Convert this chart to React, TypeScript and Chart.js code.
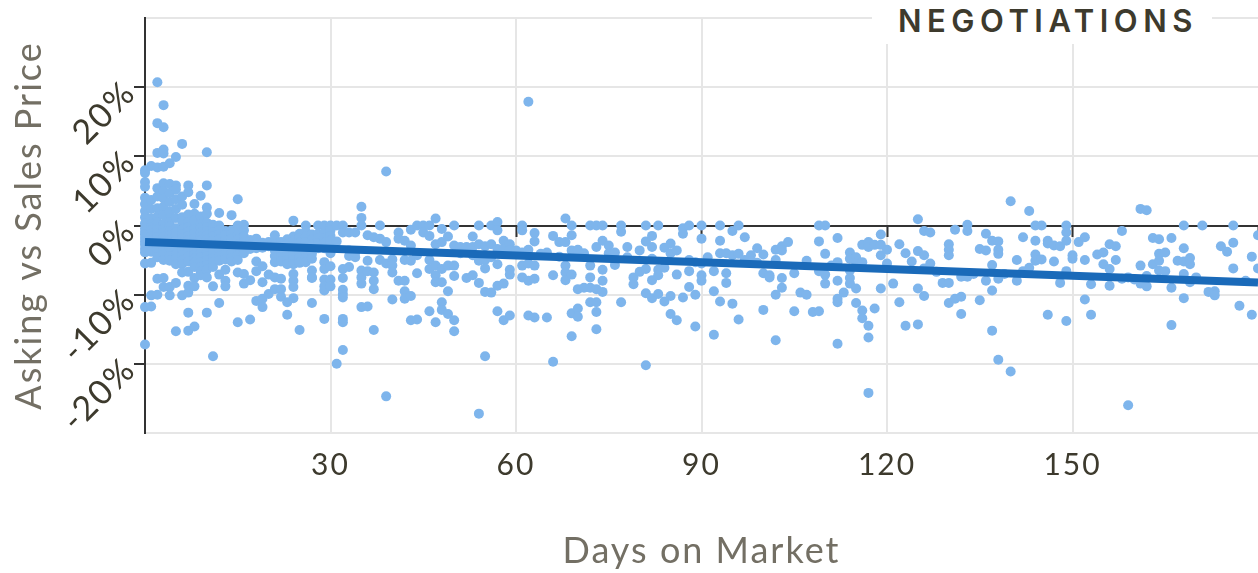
import React, { useEffect, useRef } from "react";
import { Chart, registerables } from "chart.js";

Chart.register(...registerables);

const chartTitle = "NEGOTIATIONS";
const xAxisTitle = "Days on Market";
const yAxisTitle = "Asking vs Sales Price";
const trendDays = [0, 180];
const trendGaps = [-2.4, -8.25];

// Asking vs sales gap (%) of each sale, listed by days on market (index = day).
const gapsByDay: number[][] = [
  /*0*/ [8, 7.6, 6.3, 5.6, 4, 3.1, 2.1, 1.2, 0.3, -0.4, -0.9, -1.3, -1.8, -2.3, -2.8, -3.4, -3.9, -5.5, -11.8, -17.2],
  /*1*/ [8.6, 3.7, 2.4, 1, 0.2, -0.3, -0.7, -1.2, -1.6, -2.1, -2.7, -3.2, -3.8, -5.4, -10.1, -11.7],
  /*2*/ [20.7, 14.8, 10.5, 8.4, 5.4, 4.2, 2.5, 1.3, 0.4, -0.2, -0.6, -1.1, -1.7, -2.2, -2.9, -3.5, -4.1, -4.6, -7.7, -10],
  /*3*/ [17.4, 14.2, 11, 10.4, 8.5, 6.1, 5, 3.9, 2.7, 1.5, 0.2, -0.5, -1, -1.6, -2.3, -3, -3.6, -4.2, -5, -7.6, -8.9],
  /*4*/ [9, 6, 4.7, 3.4, 2, 1, 0.5, -0.1, -0.8, -1.4, -2, -2.6, -3.3, -3.9, -4.4, -5.1, -8.9, -10.1],
  /*5*/ [9.9, 5.8, 5.2, 3.8, 2.4, 1.1, -0.4, -1, -1.5, -2.2, -2.9, -3.5, -4.2, -4.8, -5.6, -8.3, -15.3],
  /*6*/ [11.8, 4.2, 3, 1.2, 0.6, -0.6, -1.3, -1.9, -2.5, -3.1, -3.7, -4.3, -5, -5.6, -6.8, -10.1],
  /*7*/ [5.8, 4.8, 1.6, 0.5, -0.2, -0.9, -1.5, -2.1, -2.7, -3.3, -3.8, -4.5, -5.2, -6.7, -8.7, -9.7, -12.6, -15.2],
  /*8*/ [3.1, 1.7, 0.7, -0.5, -1.1, -1.8, -2.4, -3, -3.6, -4.2, -4.8, -5.4, -6, -7.6, -8.8, -14.6],
  /*9*/ [4.3, 1.3, 0.2, -0.3, -1, -1.6, -2.2, -2.8, -3.4, -4, -4.6, -5.3, -6, -6.7, -7.2],
  /*10*/ [10.6, 5.8, 2.6, 1.7, 0.4, -0.2, -0.8, -1.4, -2, -2.6, -3.2, -3.8, -4.4, -5, -5.7, -6.4, -7.5, -12.6],
  /*11*/ [0.1, -0.4, -1, -1.6, -2.2, -2.8, -3.4, -4, -4.7, -5.3, -6, -8.8, -18.9],
  /*12*/ [1.8, 0, -0.7, -1.3, -2, -2.6, -3.2, -3.8, -4.5, -5.1, -7.1, -11.2],
  /*13*/ [-0.8, -1.4, -2.1, -2.8, -3.5, -4.2, -4.9, -6.4, -8, -8.8],
  /*14*/ [1.5, -0.7, -1.2, -1.9, -2.6, -3.3, -4, -4.7, -5.2],
  /*15*/ [3.8, 0, -0.6, -1.3, -2, -2.8, -3.5, -4.3, -5, -6.8, -14],
  /*16*/ [0.1, -0.7, -1.6, -2.4, -3.2, -4, -7, -8.4],
  /*17*/ [-2.1, -2.8, -3.4, -7.9, -13.6],
  /*18*/ [-1.9, -2.6, -3.3, -5.2, -6.6, -10.9],
  /*19*/ [-2.5, -3.2, -5.9, -8.2, -10.6, -11.8],
  /*20*/ [-2.4, -3, -7.1, -9.9],
  /*21*/ [-1.4, -2.1, -2.8, -3.6, -4.4, -5.3, -7.5, -9.2],
  /*22*/ [-2.4, -3, -3.7, -4.5, -5.2, -7.7, -9.2, -10.3],
  /*23*/ [-2, -2.7, -3.4, -4.2, -5, -5.6, -11.1, -12.9],
  /*24*/ [0.7, -1.6, -2.2, -2.9, -3.6, -4.3, -5, -5.6, -7, -8, -8.9, -10.5],
  /*25*/ [-1.2, -1.8, -2.5, -3.2, -4, -4.7, -5.4, -15.1],
  /*26*/ [0, -0.9, -1.6, -2.4, -3.1, -3.9, -4.6, -5.3],
  /*27*/ [-1.3, -2, -2.7, -3.4, -4.1, -4.8, -6.5, -7.5, -7.6, -11.2],
  /*28*/ [0, -1.2, -1.9, -2.6, -3.3],
  /*29*/ [0, -1, -1.8, -2.5, -3.3, -5.3, -6.3, -7.8, -8.8, -9.4, -13.5],
  /*30*/ [0, -0.7, -1.5, -2.2, -5.9, -7.8, -8.8, -4],
  /*31*/ [0, -2.3, -20],
  /*32*/ [0, -1, -6.3, -7.6, -9.3, -9.9, -10.4, -13.5, -14, -18],
  /*33*/ [-1, -3.6, -4.4, -6],
  /*34*/ [-1, -4.6, -3.9],
  /*35*/ [2.7, 1.1, 0, -6.5, -7.5, -8.4, -11.8],
  /*36*/ [-1.4, -5.1, -6.6, -11.7],
  /*37*/ [-1.7, -6.8, -8, -9.2, -15.1],
  /*38*/ [0, -1.9, -5],
  /*39*/ [-2.4, -5.5, -24.7, 7.8],
  /*40*/ [-4.9, -5.8, -6.8, -10.7],
  /*41*/ [-1, -1.9, -8],
  /*42*/ [-2.2, -5, -8, -9.5, -10.6],
  /*43*/ [-0.6, -2.9, -5.1, -10.2, -13.7],
  /*44*/ [0, -4.3, -6.9, -13.6],
  /*45*/ [0, -1],
  /*46*/ [0, -1.5, -5, -6.3, -12.4],
  /*47*/ [1, -2.7, -5.8, -7.2, -8.2, -14],
  /*48*/ [-0.5, -2.4, -6.3, -8.2, -11.1, -12.2],
  /*49*/ [-1.6, -5.8, -9.5, -12.8],
  /*50*/ [0, -2.9, -5.8, -7.3, -13.7, -15.3],
  /*51*/ [-3.1, -4],
  /*52*/ [-3.1, -7.6],
  /*53*/ [-1.6, -3.1, -4.3, -7.2],
  /*54*/ [0, -2.7, -5.1, -8.3, -27.2],
  /*55*/ [-3, -5, -6.2, -9.6, -18.9],
  /*56*/ [0, -2.7, -4.6, -9.7],
  /*57*/ [0.5, -0.7, -3.4, -5.6, -8.7, -12.4],
  /*58*/ [-2.2, -3.4, -8.4, -13.7],
  /*59*/ [-2.7, -3.6, -6.4, -7.1, -13],
  /*60*/ [-3.6],
  /*61*/ [0, -0.7, -3.9, -5.8, -7.5],
  /*62*/ [17.9, -3.5, -5.5, -8, -13],
  /*63*/ [-1.1, -2.3, -5.8, -7.7, -13.3],
  /*64*/ [-4.1],
  /*65*/ [-3.9, -13.3],
  /*66*/ [-1.5, -7.2, -19.7],
  /*67*/ [-2.4, -4.5],
  /*68*/ [1, -2.4, -5.8, -6.8, -7.9],
  /*69*/ [0, -1.4, -3.6, -7.1, -12.7, -16],
  /*70*/ [-3.5, -9.2, -12, -13.2],
  /*71*/ [-4, -9],
  /*72*/ [0, -5.8, -7.5, -9, -11.1],
  /*73*/ [0, -3.1, -9.2, -11.1, -12.5, -15],
  /*74*/ [0, -2.2, -6.4, -8, -9.6],
  /*75*/ [-2.9, -4],
  /*76*/ [-3.9, -5.7],
  /*77*/ [0, -0.9, -11.1],
  /*78*/ [-3.1, -4.6],
  /*79*/ [-7.5, -8.5],
  /*80*/ [-3.6, -6.7],
  /*81*/ [0, -2.3, -6.3, -9.8, -20.2],
  /*82*/ [-1.5, -3.1, -4.8, -7.9, -10.5],
  /*83*/ [0, -6.4, -7.2, -9.9],
  /*84*/ [-3.2, -6.1, -11],
  /*85*/ [-2.6, -4, -10.2, -12.8],
  /*86*/ [-3.6, -7.1, -13.7],
  /*87*/ [-0.4, -1.2, -10.4],
  /*88*/ [0, -5, -6.6, -8.9],
  /*89*/ [-5.3, -10, -14.6],
  /*90*/ [0, -1.9, -5.5, -7.2, -8],
  /*91*/ [-4.6],
  /*92*/ [-6.6, -9.5, -15.8],
  /*93*/ [0, -2.2, -4, -11],
  /*94*/ [-4, -6.9, -8.3],
  /*95*/ [-0.8, -4.3, -11.3],
  /*96*/ [0, -4.1, -13.6],
  /*97*/ [-1.7, -5],
  /*98*/ [-4.3, -5.2],
  /*99*/ [-3.3, -5.4],
  /*100*/ [-4.2, -6.9, -12.2],
  /*101*/ [-7.2, -7.5],
  /*102*/ [-3.5, -5, -10, -16.6],
  /*103*/ [-3, -3.6, -7.6, -9],
  /*104*/ [-2.4],
  /*105*/ [-6.9, -12.4],
  /*106*/ [-9.7],
  /*107*/ [-5.1, -10],
  /*108*/ [-12.5],
  /*109*/ [0, -2.3, -6.6, -12.4],
  /*110*/ [0, -4.1, -7.1, -8.4],
  /*111*/ [-5.8],
  /*112*/ [-1.8, -5.3, -8, -10.6, -11.1, -17.1],
  /*113*/ [-9.7],
  /*114*/ [-3.9, -4.8, -6.5, -7.6, -8.4],
  /*115*/ [-4.6, -5.4, -9.1, -11.2],
  /*116*/ [-2.8, -5.3, -12.3, -13.4],
  /*117*/ [-2.4, -3.1, -14.5, -16.2, -24.2],
  /*118*/ [-2.8, -12],
  /*119*/ [-1.3, -2.8, -4.3, -9.1],
  /*120*/ [-3.5, -5.5],
  /*121*/ [-8.4],
  /*122*/ [-2.7, -11.1],
  /*123*/ [-4, -14.5],
  /*124*/ [-5.2],
  /*125*/ [0.9, -3.7, -9.1, -14.3],
  /*126*/ [-0.8, -4.3, -6.2, -10.2],
  /*127*/ [-1, -5.5],
  /*128*/ [-6.7],
  /*129*/ [-8.3],
  /*130*/ [-2.7, -3.5, -4.3, -8.3, -11.2],
  /*131*/ [-0.6, -10.6],
  /*132*/ [-7.4, -10.3, -12.8],
  /*133*/ [0.1, -0.8, -7.4],
  /*134*/ [-7],
  /*135*/ [-3.4, -10.8],
  /*136*/ [-1.2, -3.6, -8],
  /*137*/ [-2.2, -5.7, -9.4, -15.2],
  /*138*/ [-2.3, -3.5, -4.1, -7.7, -19.4],
  /*139*/ [-7],
  /*140*/ [3.5, -21.1],
  /*141*/ [-5, -8],
  /*142*/ [-1.7, -6.6],
  /*143*/ [2.1, -6.1],
  /*144*/ [0, -2.2, -4.2, -5.1],
  /*145*/ [0, -4.9],
  /*146*/ [-2.2, -2.6, -12.9],
  /*147*/ [-2.9, -5.2],
  /*148*/ [-3, -8.3],
  /*149*/ [0, -1, -2.2, -6.6, -13.8],
  /*150*/ [-4.3, -4.8],
  /*151*/ [-2.4],
  /*152*/ [-1.7, -5, -10.7],
  /*153*/ [-8.5, -12.9],
  /*154*/ [-4.2],
  /*155*/ [-3.9, -5.6],
  /*156*/ [-2.7, -6.3, -8.7],
  /*157*/ [-3, -5],
  /*158*/ [-0.8, -7.7],
  /*159*/ [-7.5, -26],
  /*160*/ [-7.8],
  /*161*/ [2.4, -5.8, -8.4],
  /*162*/ [2.2, -7.3, -8.8],
  /*163*/ [-1.8, -5.6],
  /*164*/ [-2, -4.1, -5.1, -6.5],
  /*165*/ [-3.9, -6.6],
  /*166*/ [-1.8, -9, -14.4],
  /*167*/ [-5.1],
  /*168*/ [0, -3.3, -5.2, -7, -10.5],
  /*169*/ [-4.7, -5.6, -8.2],
  /*170*/ [-7.5],
  /*171*/ [0],
  /*172*/ [-9.6],
  /*173*/ [-9.5, -10.1],
  /*174*/ [-3],
  /*175*/ [-3.8],
  /*176*/ [0, -2.5, -6.2],
  /*177*/ [-11.6],
  /*178*/ [-8],
  /*179*/ [-4.5, -12.9],
  /*180*/ [-1.4, -6.2],
];

const salePoints = gapsByDay.flatMap((gaps, day) => gaps.map((gap) => ({ x: day, y: gap })));
const trendPoints = trendDays.map((day, i) => ({ x: day, y: trendGaps[i] }));

const DARK = "#333333";
const GRID = "#e6e6e6";
const INK = "#3d3a2d";
const MUTED = "#736f64";
const FONT = "Lato, 'Noto Sans', sans-serif";

export default function App() {
  const ref = useRef<HTMLCanvasElement | null>(null);

  useEffect(() => {
    const chart = new Chart(ref.current!, {
      type: "scatter",
      data: {
        datasets: [
          {
            type: "line",
            data: trendPoints,
            borderColor: "#1a6ab9",
            borderWidth: 8,
            pointRadius: 0,
            order: 0,
            clip: false,
          },
          {
            data: salePoints,
            backgroundColor: "#7eb5ec",
            borderWidth: 0,
            pointRadius: 5,
            order: 1,
            clip: false,
          },
        ],
      } as any,
      plugins: [
        {
          id: "tracking",
          beforeDraw(c: any) {
            c.ctx.letterSpacing = "2px";
          },
        },
      ],
      options: {
        animation: false,
        responsive: false,
        layout: { autoPadding: false, padding: { top: 18, left: 0, right: 0, bottom: 0 } },
        plugins: { legend: { display: false }, tooltip: { enabled: false }, title: { display: false } },
        scales: {
          x: {
            type: "linear",
            min: 0,
            max: 180,
            border: { display: false },
            grid: {
              drawTicks: false,
              lineWidth: 2,
              color: (c: any) => (c.tick.value === 0 || c.tick.value === 180 ? "transparent" : GRID),
            },
            ticks: {
              stepSize: 30,
              maxRotation: 0,
              padding: 14,
              color: INK,
              font: { family: FONT, size: 30 },
              callback: (v: any) => (v === 0 || v === 180 ? "" : String(v)),
            },
            title: {
              display: true,
              text: xAxisTitle,
              color: MUTED,
              font: { family: FONT, size: 36 },
              padding: { top: 30, bottom: 0 },
            },
            afterFit: (s: any) => {
              s.height = 140;
              s.paddingLeft = 0;
              s.paddingRight = 0;
            },
          },
          zeroLine: {
            axis: "x",
            type: "linear",
            position: { y: 0 },
            min: 0,
            max: 180,
            border: { display: true, color: DARK, width: 2 },
            grid: { drawOnChartArea: false, drawTicks: true, tickLength: 10, tickWidth: 2, tickColor: DARK },
            ticks: { display: false, stepSize: 30 },
          },
          y: {
            type: "linear",
            min: -30,
            max: 30,
            border: { display: true, color: DARK, width: 2 },
            grid: {
              lineWidth: 2,
              tickLength: 11,
              tickWidth: 2,
              color: (c: any) => (c.tick.value === 0 ? DARK : GRID),
              tickColor: (c: any) => (Math.abs(c.tick.value) === 30 ? "transparent" : DARK),
            },
            ticks: {
              stepSize: 10,
              minRotation: 45,
              maxRotation: 45,
              padding: 4,
              color: INK,
              font: { family: FONT, size: 34 },
              callback: (v: any) => (Math.abs(v) === 30 ? "" : `${v}%`),
            },
            title: {
              display: true,
              text: yAxisTitle,
              color: MUTED,
              font: { family: FONT, size: 36 },
              padding: { top: 8, bottom: 0 },
            },
            afterFit: (s: any) => {
              s.width = 145;
              s.paddingTop = 0;
              s.paddingBottom = 0;
            },
          },
        },
      },
    } as any);
    return () => chart.destroy();
  }, []);

  return (
    <div style={{ position: "fixed", left: 0, top: 0, width: 1258, height: 573, background: "#fff", overflow: "hidden" }}>
      <canvas ref={ref} width={1258} height={573} style={{ display: "block" }} />
      <div
        style={{
          position: "absolute",
          left: 872,
          top: 0,
          width: 340,
          height: 44,
          paddingLeft: 26,
          boxSizing: "border-box",
          background: "#fff",
          color: INK,
          font: "600 31px Inter, sans-serif",
          letterSpacing: "5.5px",
          lineHeight: "42px",
          textAlign: "left",
          whiteSpace: "nowrap",
        }}
      >
        {chartTitle}
      </div>
    </div>
  );
}
